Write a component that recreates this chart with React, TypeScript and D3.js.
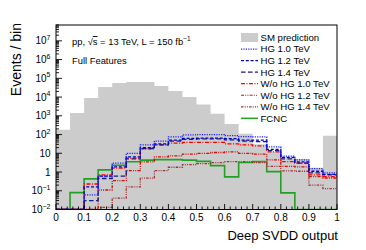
import React, { useEffect, useRef } from "react";
import * as d3 from "d3";

// bin edges of the Deep SVDD output histogram
const binEdges = [
	0, 0.05, 0.1, 0.15, 0.2, 0.25, 0.3, 0.35, 0.4, 0.45, 0.5, 0.55, 0.6, 0.65,
	0.7, 0.75, 0.8, 0.85, 0.9, 0.95, 1,
];

const smPrediction = [
	180, 1400, 9000, 34000, 56000, 63000, 63000, 39000, 21000, 10000, 4000,
	1300, 370, 110, 30, 12, 6, 5, 1.7, 85,
];
const hg10 = [
	0, 0, 0.06, 0.6, 3, 10, 28, 45, 75, 96, 100, 100, 88, 78, 75, 22, 7, 4.5,
	1.5, 0.9,
];
const hg12 = [
	0, 0, 0.16, 0.6, 1.9, 6.5, 20, 32, 50, 62, 65, 65, 60, 50, 50, 16, 6, 3.5,
	1.1, 0.75,
];
const hg14 = [
	0, 0, 0.03, 0.45, 0.6, 5, 18, 28, 45, 55, 58, 58, 52, 45, 42, 14, 5, 3, 0.9,
	0.7,
];
const woHg10 = [
	0, 0, 0.23, 0.7, 1.6, 5.5, 17, 28, 35, 38, 38, 38, 32, 28, 25, 12, 3.6, 3,
	0.7, 0.57,
];
const woHg12 = [
	0, 0, 0, 0.11, 0.35, 1.2, 3.5, 6.5, 7.3, 9, 10, 11, 12, 10, 9, 4.4, 2, 1.9,
	0.57, 0.48,
];
const woHg14 = [
	0, 0, 0, 0.013, 0.04, 0.16, 0.47, 1.2, 1.8, 2.5, 2.8, 3.2, 3.6, 3.6, 3.2, 2,
	1.15, 1.1, 0.2, 0.13,
];
const fcnc = [
	0, 0.08, 0.43, 1.3, 2.3, 3.5, 4.3, 4.6, 4.6, 4.3, 3.7, 2.2, 0.55, 3.2, 3.6,
	1.05, 0.077, 0, 0, 0,
];

const xTicks = [0, 0.1, 0.2, 0.3, 0.4, 0.5, 0.6, 0.7, 0.8, 0.9, 1];
const xTickLabels = ["0", "0.1", "0.2", "0.3", "0.4", "0.5", "0.6", "0.7", "0.8", "0.9", "1"];
const yDecades = [-2, -1, 0, 1, 2, 3, 4, 5, 6, 7];

const series = [
	{ name: "HG 1.0 TeV", values: hg10, color: "#2020ff", dash: "1.2,1.2" },
	{ name: "HG 1.2 TeV", values: hg12, color: "#0000c0", dash: "3,1.8" },
	{ name: "HG 1.4 TeV", values: hg14, color: "#1a1a80", dash: "4.5,2.5" },
	{ name: "W/o HG 1.0 TeV", values: woHg10, color: "#ff0000", dash: "4,1.5,1,1.5" },
	{ name: "W/o HG 1.2 TeV", values: woHg12, color: "#cc1010", dash: "3,1.2,1,1.2,1,1.2" },
	{ name: "W/o HG 1.4 TeV", values: woHg14, color: "#a03434", dash: "2.5,1.2,1,1.2,1,1.2" },
	{ name: "FCNC", values: fcnc, color: "#22a022", dash: null },
];

const FONT = "Liberation Sans, Arial, Helvetica, sans-serif";

const App = () => {
	const ref = useRef<SVGSVGElement>(null);

	useEffect(() => {
		const svg = d3.select(ref.current);
		svg.selectAll("*").remove();

		const left = 56,
			right = 337,
			top = 25,
			bottom = 209.5;
		const yMin = 0.01;

		const x = d3.scaleLinear().domain([0, 1]).range([left, right]);
		const y = d3.scaleLog().domain([yMin, 7e7]).range([bottom, top]);
		const yc = (v: number) => y(Math.max(v, yMin));

		svg.append("defs")
			.append("clipPath")
			.attr("id", "plot-clip")
			.append("rect")
			.attr("x", left)
			.attr("y", top)
			.attr("width", right - left)
			.attr("height", bottom - top);

		const steps = (vals: number[]) =>
			vals
				.map((v, i) => [binEdges[i], v] as [number, number])
				.concat([[binEdges[vals.length], vals[vals.length - 1]]]);

		const plot = svg.append("g").attr("clip-path", "url(#plot-clip)");

		// SM background, filled gray
		const area = d3
			.area<[number, number]>()
			.x((d) => x(d[0]))
			.y0(bottom)
			.y1((d) => yc(d[1]))
			.curve(d3.curveStepAfter);
		plot.append("path").datum(steps(smPrediction)).attr("d", area).attr("fill", "#cccccc");

		const line = d3
			.line<[number, number]>()
			.x((d) => x(d[0]))
			.y((d) => yc(d[1]))
			.curve(d3.curveStepAfter);

		series
			.slice()
			.reverse()
			.forEach((s) => {
				plot.append("path")
					.datum(steps(s.values))
					.attr("d", line)
					.attr("fill", "none")
					.attr("stroke", s.color)
					.attr("stroke-width", s.dash ? 1.3 : 1.6)
					.attr("stroke-dasharray", s.dash);
			});

		// frame
		svg.append("rect")
			.attr("x", left)
			.attr("y", top)
			.attr("width", right - left)
			.attr("height", bottom - top)
			.attr("fill", "none")
			.attr("stroke", "#000")
			.attr("stroke-width", 1);

		// x ticks (inward)
		const xMinor = d3.range(0, 51).map((i) => i * 0.02);
		svg.append("g")
			.selectAll("line")
			.data(xMinor)
			.enter()
			.append("line")
			.attr("x1", (d) => x(d))
			.attr("x2", (d) => x(d))
			.attr("y1", bottom)
			.attr("y2", (d, i) => (i % 5 === 0 ? bottom - 5.5 : bottom - 3))
			.attr("stroke", "#000")
			.attr("stroke-width", 0.9);

		svg.append("g")
			.selectAll("text")
			.data(xTicks)
			.enter()
			.append("text")
			.attr("x", (d) => x(d))
			.attr("y", 220.5)
			.attr("text-anchor", "middle")
			.attr("font-family", FONT)
			.attr("font-size", 10)
			.text((d, i) => xTickLabels[i]);

		// y ticks, log scale with minor ticks
		const yMinor: number[] = [];
		yDecades.forEach((d) => {
			for (let k = 2; k <= 9; k++) {
				const v = k * Math.pow(10, d);
				if (v <= 7e7) yMinor.push(v);
			}
		});
		svg.append("g")
			.selectAll("line")
			.data(yMinor)
			.enter()
			.append("line")
			.attr("x1", left)
			.attr("x2", left + 3)
			.attr("y1", (d) => y(d))
			.attr("y2", (d) => y(d))
			.attr("stroke", "#000")
			.attr("stroke-width", 0.9);
		svg.append("g")
			.selectAll("line")
			.data(yDecades)
			.enter()
			.append("line")
			.attr("x1", left)
			.attr("x2", left + 6)
			.attr("y1", (d) => y(Math.pow(10, d)))
			.attr("y2", (d) => y(Math.pow(10, d)))
			.attr("stroke", "#000")
			.attr("stroke-width", 0.9);

		yDecades.forEach((d) => {
			const t = svg
				.append("text")
				.attr("x", 50.5)
				.attr("y", y(Math.pow(10, d)) + 3.6)
				.attr("text-anchor", "end")
				.attr("font-family", FONT)
				.attr("font-size", 10);
			if (d === 0) t.text("1");
			else if (d === 1) t.text("10");
			else {
				t.append("tspan").text("10");
				t.append("tspan")
					.attr("dy", -4.5)
					.attr("font-size", 7)
					.text(d < 0 ? "\u2212" + -d : String(d));
			}
		});

		// axis titles
		svg.append("text")
			.attr("x", 338)
			.attr("y", 240)
			.attr("text-anchor", "end")
			.attr("font-family", FONT)
			.attr("font-size", 13)
			.text("Deep SVDD output");
		svg.append("text")
			.attr("transform", "translate(20.5, 23) rotate(-90)")
			.attr("text-anchor", "end")
			.attr("font-family", FONT)
			.attr("font-size", 14)
			.text("Events / bin");

		// labels inside the plot
		const info = svg
			.append("text")
			.attr("x", 72)
			.attr("y", 45)
			.attr("font-family", FONT)
			.attr("font-size", 9.4);
		info.append("tspan").text("pp, \u221A");
		info.append("tspan").attr("text-decoration", "overline").text("s");
		info.append("tspan").text(" = 13 TeV, L = 150 fb");
		info.append("tspan").attr("dy", -4).attr("font-size", 6.5).text("\u22121");

		svg.append("text")
			.attr("x", 72)
			.attr("y", 64)
			.attr("font-family", FONT)
			.attr("font-size", 9.4)
			.text("Full Features");

		// legend
		const legX = 241,
			legY0 = 37.5,
			legDy = 11.55;
		const leg = svg.append("g");
		leg.append("rect")
			.attr("x", legX)
			.attr("y", legY0 - 4.5)
			.attr("width", 17)
			.attr("height", 9)
			.attr("fill", "#cccccc");
		leg.append("text")
			.attr("x", 260.5)
			.attr("y", legY0 + 3.4)
			.attr("font-family", FONT)
			.attr("font-size", 9.6)
			.text("SM prediction");
		series.forEach((s, i) => {
			const yy = legY0 + (i + 1) * legDy;
			leg.append("line")
				.attr("x1", legX)
				.attr("x2", legX + 17)
				.attr("y1", yy)
				.attr("y2", yy)
				.attr("stroke", s.color)
				.attr("stroke-width", s.dash ? 1.2 : 1.5)
				.attr("stroke-dasharray", s.dash);
			leg.append("text")
				.attr("x", 260.5)
				.attr("y", yy + 3.4)
				.attr("font-family", FONT)
				.attr("font-size", 9.6)
				.text(s.name);
		});
	}, []);

	return (
		<svg
			ref={ref}
			width={366}
			height={250}
			style={{ position: "absolute", left: 0, top: 0, background: "#fff" }}
		></svg>
	);
};

export default App;
